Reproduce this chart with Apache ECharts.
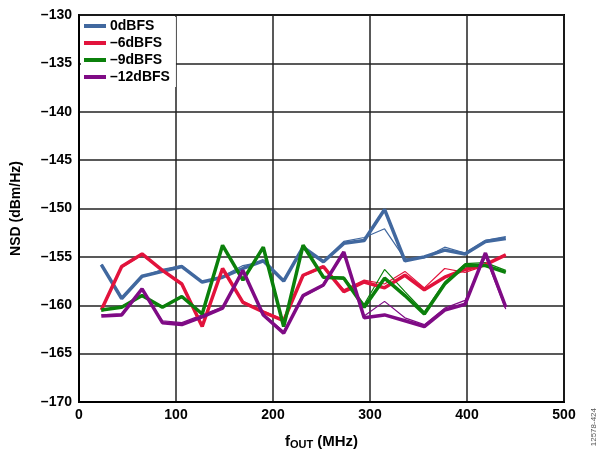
<!DOCTYPE html>
<html>
<head>
<meta charset="utf-8">
<script src="https://cdn.jsdelivr.net/npm/echarts@6/dist/echarts.min.js"></script>
<style>
  html, body { margin: 0; padding: 0; background: #fff; }
  #chart { width: 600px; height: 456px; }
</style>
</head>
<body>
<div id="chart"></div>
<script>
// fOUT (MHz)
const freqs = [23, 44, 65, 86, 106, 127, 148, 169, 190, 211, 231, 252, 273, 294, 315, 336, 356, 377, 398, 419, 440];

// NSD (dBm/Hz), thick = main curve, thin = second run
const nsd0 = [-155.8, -159.3, -157.0, -156.5, -156.0, -157.6, -157.1, -156.2, -155.4, -157.5, -154.0, -155.5, -153.6, -153.3, -150.1, -155.4, -155.0, -154.3, -154.7, -153.4, -153.1];
const nsd0b = [-155.8, -159.2, -157.0, -156.3, -155.9, -157.6, -157.0, -155.9, -155.5, -157.5, -154.1, -155.5, -153.4, -153.0, -152.1, -155.2, -155.1, -154.0, -154.6, -153.3, -152.9];
const nsd6 = [-160.5, -156.0, -154.7, -156.4, -157.8, -162.2, -156.2, -159.7, -160.7, -161.6, -156.9, -156.0, -158.6, -157.6, -158.2, -156.9, -158.4, -157.1, -156.3, -155.8, -154.8];
const nsd6b = [-160.4, -156.1, -154.8, -156.4, -157.7, -162.0, -156.3, -159.6, -160.6, -161.5, -157.0, -156.1, -158.4, -157.4, -157.8, -156.5, -158.2, -156.2, -156.6, -155.9, -154.8];
const nsd9 = [-160.5, -160.2, -159.0, -160.2, -159.1, -160.9, -153.8, -157.4, -154.0, -162.2, -153.8, -157.1, -157.2, -160.2, -157.2, -159.0, -160.9, -157.8, -155.9, -155.9, -156.6];
const nsd9b = [-160.6, -160.1, -159.1, -160.1, -159.2, -160.8, -153.9, -157.3, -154.1, -162.0, -154.0, -157.0, -157.1, -159.9, -156.3, -158.6, -160.7, -157.6, -155.7, -155.6, -156.4];
const nsd12 = [-161.1, -161.0, -158.3, -161.8, -162.0, -161.2, -160.3, -156.4, -161.0, -162.9, -159.0, -157.9, -154.5, -161.3, -161.0, -161.6, -162.2, -160.5, -159.9, -154.6, -160.2];
const nsd12b = [-161.0, -160.9, -158.4, -161.6, -161.8, -161.0, -160.2, -156.5, -160.9, -162.7, -159.1, -158.0, -154.6, -161.1, -159.6, -161.3, -162.0, -160.3, -159.5, -155.0, -160.4];

const names = ['0dBFS', '–6dBFS', '–9dBFS', '–12dBFS'];
const colors = ['#41689f', '#e2133c', '#0b800b', '#7f0b85'];
const thick = [nsd0, nsd6, nsd9, nsd12];
const thin = [nsd0b, nsd6b, nsd9b, nsd12b];

const pairs = arr => freqs.map((f, i) => [f, arr[i]]);
const dash = v => String(v).replace('-', '–');

const series = [];
thin.forEach((arr, k) => {
  series.push({
    name: names[k] + ' b',
    type: 'line',
    data: pairs(arr),
    symbol: 'none',
    lineStyle: { color: colors[k], width: 1.2 },
    itemStyle: { color: colors[k] },
    z: 2,
  });
});
thick.forEach((arr, k) => {
  series.push({
    name: names[k],
    type: 'line',
    data: pairs(arr),
    symbol: 'none',
    lineStyle: { color: colors[k], width: 3.5 },
    itemStyle: { color: colors[k] },
    z: 3,
  });
});

const chart = echarts.init(document.getElementById('chart'));
chart.setOption({
  animation: false,
  backgroundColor: '#fff',
  textStyle: { fontFamily: 'Liberation Sans, Arial, sans-serif' },
  grid: {
    left: 79, right: 36, top: 15, bottom: 54,
    show: true, borderColor: '#000', borderWidth: 2,
  },
  legend: {
    data: names,
    left: 81, top: 17,
    orient: 'vertical',
    backgroundColor: '#fff',
    padding: [2, 6, 3, 3],
    itemGap: 3,
    itemWidth: 22,
    itemHeight: 4,
    icon: 'rect',
    textStyle: { fontSize: 14, fontWeight: 'bold', color: '#000', padding: [0, 0, 0, -1] },
  },
  xAxis: {
    type: 'value',
    min: 0, max: 500, interval: 100,
    axisLine: { lineStyle: { color: '#000', width: 2 } },
    axisTick: { show: false },
    splitLine: { lineStyle: { color: '#222', width: 1.5 } },
    axisLabel: { color: '#000', fontSize: 14, fontWeight: 'bold', margin: 6 },
    name: '{a|f}{b|OUT}{a| (MHz)}',
    nameLocation: 'middle',
    nameGap: 31,
    nameTextStyle: {
      rich: {
        a: { fontSize: 15, fontWeight: 'bold', color: '#000' },
        b: { fontSize: 11, fontWeight: 'bold', color: '#000', verticalAlign: 'bottom', padding: [6, 0, 0, 0] },
      },
    },
  },
  yAxis: {
    type: 'value',
    min: -170, max: -130, interval: 5,
    axisLine: { lineStyle: { color: '#000', width: 2 } },
    axisTick: { show: false },
    splitLine: { lineStyle: { color: '#222', width: 1.5 } },
    axisLabel: { color: '#000', fontSize: 14, fontWeight: 'bold', margin: 7, formatter: dash },
    name: 'NSD (dBm/Hz)',
    nameLocation: 'middle',
    nameGap: 56,
    nameTextStyle: { fontSize: 14, fontWeight: 'bold', color: '#000' },
  },
  graphic: [{
    type: 'text',
    right: 2, top: 408,
    rotation: Math.PI / 2,
    style: { text: '12578-424', fontSize: 8, fill: '#555', fontFamily: 'Liberation Sans, Arial, sans-serif' },
  }],
  series: series,
});
</script>
</body>
</html>
